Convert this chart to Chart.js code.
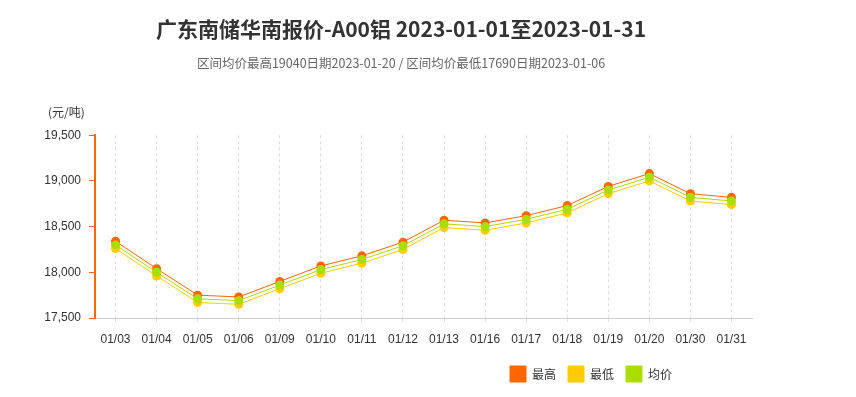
<!DOCTYPE html>
<html>
<head>
<meta charset="utf-8">
<script src="https://cdn.jsdelivr.net/npm/chart.js@4/dist/chart.umd.min.js"></script>
<style>
  html, body { margin: 0; padding: 0; background: #fff; }
  #wrap { position: relative; width: 802px; height: 397px; }
</style>
</head>
<body>
<div id="wrap"><canvas id="priceChart"></canvas></div>
<script>
// daily quotes, Jan 2023 (yuan / tonne)
const dates = ['01/03', '01/04', '01/05', '01/06', '01/09', '01/10', '01/11', '01/12',
               '01/13', '01/16', '01/17', '01/18', '01/19', '01/20', '01/30', '01/31'];
const highPrices = [18340, 18040, 17750, 17730, 17900, 18070, 18180, 18330,
                    18570, 18540, 18620, 18730, 18940, 19080, 18860, 18820];
const lowPrices  = [18260, 17960, 17670, 17650, 17820, 17990, 18100, 18250,
                    18490, 18460, 18540, 18650, 18860, 19000, 18780, 18740];
const avgPrices  = [18300, 18000, 17710, 17690, 17860, 18030, 18140, 18290,
                    18530, 18500, 18580, 18690, 18900, 19040, 18820, 18780];

const chartTitle = '广东南储华南报价-A00铝 2023-01-01至2023-01-31';
const chartSubtitle = '区间均价最高19040日期2023-01-20 / 区间均价最低17690日期2023-01-06';
const unitLabel = '(元/吨)';

const colors = { high: '#ff6600', low: '#ffcc00', avg: '#aadd00' };
const cjkFont = '"Noto Sans CJK SC", "Noto Sans", sans-serif';
const tickFont = '"Liberation Sans", Arial, sans-serif';

function makeSeries(label, data, color, order) {
  return {
    label,
    data,
    order,
    borderColor: color,
    backgroundColor: color,
    borderWidth: 1,
    pointRadius: 4.5,
    pointBorderWidth: 0,
    pointBackgroundColor: color,
    tension: 0
  };
}

// unit text above the y axis + move legend to where the original has it
const extrasPlugin = {
  id: 'extras',
  afterLayout(chart) {
    const lg = chart.legend;
    if (lg) {
      lg.left = 498;
      lg.top = 354;
    }
  },
  afterDraw(chart) {
    const { ctx, chartArea } = chart;
    ctx.save();
    ctx.font = '12px ' + cjkFont;
    ctx.fillStyle = '#333';
    ctx.textBaseline = 'middle';
    ctx.textAlign = 'left';
    ctx.fillText(unitLabel, chartArea.left - 47, chartArea.top - 23);
    ctx.restore();
  }
};

new Chart(document.getElementById('priceChart'), {
  type: 'line',
  data: {
    labels: dates,
    datasets: [
      makeSeries('最高', highPrices, colors.high, 3),
      makeSeries('最低', lowPrices, colors.low, 2),
      makeSeries('均价', avgPrices, colors.avg, 1)
    ]
  },
  options: {
    responsive: true,
    maintainAspectRatio: false,
    animation: false,
    layout: { padding: 0 },
    plugins: {
      title: {
        display: true,
        text: chartTitle,
        color: '#333',
        font: { family: cjkFont, size: 21, weight: 'bold' },
        padding: { top: 16.4, bottom: 0 }
      },
      subtitle: {
        display: true,
        text: chartSubtitle,
        color: '#666',
        font: { family: cjkFont, size: 12.5 },
        padding: { top: 14, bottom: 64.6 }
      },
      legend: {
        position: 'bottom',
        align: 'start',
        labels: {
          boxWidth: 16,
          boxHeight: 16,
          padding: 12,
          color: '#333',
          font: { family: cjkFont, size: 12 },
          sort: (a, b) => a.datasetIndex - b.datasetIndex
        }
      },
      tooltip: { enabled: false }
    },
    scales: {
      x: {
        offset: true,
        afterFit: s => {
          const lh = s.chart.legend ? s.chart.legend.height : 0;
          s.height = 79 - lh;
        },
        grid: {
          color: '#dddddd',
          lineWidth: 1,
          drawTicks: true,
          tickLength: 4,
          tickColor: '#dddddd'
        },
        border: { color: '#cccccc', width: 1, dash: [3, 3] },
        ticks: {
          color: '#333',
          padding: 10,
          maxRotation: 0,
          autoSkip: false,
          font: { family: tickFont, size: 12 }
        }
      },
      y: {
        min: 17500,
        max: 19500,
        afterFit: s => { s.width = 95; },
        grid: {
          drawOnChartArea: false,
          drawTicks: true,
          tickLength: 6,
          tickColor: colors.high
        },
        border: { color: colors.high, width: 2 },
        ticks: {
          stepSize: 500,
          color: '#333',
          padding: 8,
          font: { family: tickFont, size: 12 },
          callback: v => v.toLocaleString('en-US')
        }
      },
      // empty right-hand gutter so the titles stay centred on the full width
      gutter: {
        position: 'right',
        afterFit: s => { s.width = 50; },
        grid: { display: false },
        border: { display: false },
        ticks: { display: false }
      }
    }
  },
  plugins: [extrasPlugin]
});
</script>
</body>
</html>
